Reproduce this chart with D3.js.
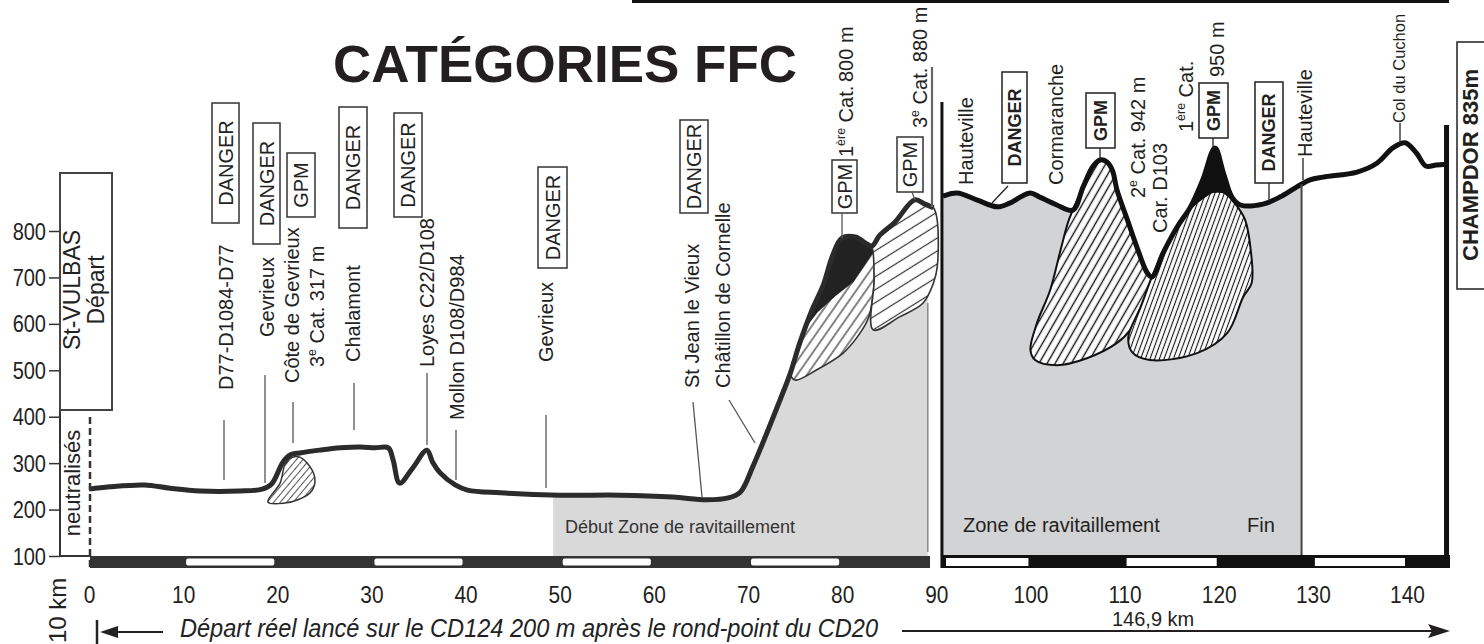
<!DOCTYPE html>
<html><head><meta charset="utf-8">
<script src="https://cdn.jsdelivr.net/npm/d3@7"></script>
<style>html,body{margin:0;padding:0;background:#fff;}svg{display:block;}text{font-family:"Liberation Sans",Arial,Helvetica,sans-serif;}</style>
</head><body><svg id="c" width="1484" height="644"></svg>
<script>
// ---------- DATA ----------
const kmTicks = [0,10,20,30,40,50,60,70,80,90,100,110,120,130,140];
const elevTicks = [100,200,300,400,500,600,700,800];
// West part of the profile (St-Vulbas -> Col 880 m)
const westKm   = [0,2.2,5.9,8.6,11.8,16,18.4,19.4,20.6,21.4,22.4,24.5,26.7,28.8,30.4,31.8,32.3,33,34.4,35.9,36.5,37.3,38.9,40.2,43.7,50,56.4,62,65.6,67.9,69.2,70.5,72,73.4,74.5,75.5,76.8,78,79,80,81.4,82.8,83.2,84,85.6,87.7,88.8,89.7];
const westElev = [244,249,253,246,240,240,244,255,302,318,322,328,333,335,333,333,307,257,290,328,302,279,253,242,236,231,231,227,221,225,238,292,365,436,494,559,630,684,748,785,787,770,768,791,819,867,858,850];
// East part of the profile (Hauteville -> Champdor)
const eastKm   = [90.7,92.2,94.3,96.5,97.8,99.1,100,101,102.8,104.5,105.6,106.6,107.4,108.1,108.7,109.2,110.3,111.3,112.4,112.9,114.1,115.6,117,118.3,119.6,120.5,121.4,122.3,124.7,126.5,128.3,129.7,131.1,134.7,136.8,138.5,139.8,141,142,143.1,144.2];
const eastElev = [875,882,867,852,860,875,882,873,856,845,895,938,953,949,931,888,824,766,710,701,753,809,852,910,979,925,873,856,858,873,895,910,916,927,946,979,990,968,940,942,944];
// Climb "shadow" shapes  [km, elevation]
const climbGevrieux = [[19,216],[20.3,257],[20.8,296],[21.4,311],[22.4,313],[23.7,285],[24,259],[23.5,236],[22.2,221],[20.8,214]];
const climb800 = [[74.5,494],[75.5,559],[76.8,630],[78,684],[79,748],[80,785],[81.4,787],[82.8,770],[83.3,754],[83.4,694],[83.2,651],[82.8,613],[81.9,580],[80.1,537],[77.3,501],[75,479]];
const climb800Steep = [[75.9,585],[76.8,630],[78,684],[79,748],[80,785],[81.4,787],[82.8,770],[83.3,754],[82.4,726],[81.2,690],[79.3,660],[77.4,625]];
const climb880 = [[83.2,768],[84,791],[85.6,819],[87.7,867],[88.8,858],[89.7,850],[90.1,823],[90.1,722],[89.7,688],[88.6,645],[86.1,615],[83.3,587],[83.4,694],[83.3,754]];
const climb942 = [[104.5,845],[105.6,895],[106.6,938],[107.4,953],[108.1,949],[108.7,931],[109.2,888],[110.3,824],[111.3,766],[112.4,710],[112.9,701],[112.5,673],[111.6,630],[110.6,587],[109.2,559],[106,526],[102.8,511],[100.5,522],[100,544],[100.7,602],[102.1,673],[103.2,759],[104,819]];
const climb950 = [[112.9,701],[114.1,753],[115.6,809],[116.9,846],[118.3,871],[119.4,884],[120.6,882],[121.7,860],[122.8,824],[123.4,759],[123.5,688],[122.6,658],[120.9,580],[117.7,537],[112.7,522],[110.8,539],[110.4,572],[111.7,636]];
const climb950Steep = [[116.9,846],[117,852],[118.3,910],[119.6,979],[120.5,925],[121.4,873],[121.7,860],[120.6,882],[119.4,884],[118.3,871]];
// km scale bar: white segments
const barWhiteWest = [[10,20],[30,40],[50,60],[70,80]];
const barWhiteEast = [[90,100],[110,120],[130,140]];
// zones
const zoneWest = [49.3, 89.1];
const zoneEast = [90.6, 128.8];

// ---------- SCALES ----------
const svg = d3.select("#c");
const xS = d3.scaleLinear().domain([0,140]).range([89,1407]);
const yS = d3.scaleLinear().domain([100,800]).range([556,231]);
const FONT = '"Liberation Sans",Arial,sans-serif';

const defs = svg.append("defs");
function hatch(id, angle, sp, w, col){
  const p = defs.append("pattern").attr("id",id).attr("patternUnits","userSpaceOnUse")
    .attr("width",sp).attr("height",sp).attr("patternTransform",`rotate(${-angle})`);
  p.append("rect").attr("width",sp).attr("height",sp).attr("fill","#fff");
  p.append("line").attr("x1",-1).attr("x2",sp+1).attr("y1",sp/2).attr("y2",sp/2)
    .attr("stroke",col).attr("stroke-width",w);
}
hatch("hC",50,5,1,"#555");
hatch("hD",55,8,1.2,"#333");
hatch("hE",32,11,1.2,"#333");
hatch("hA",60,7,1.4,"#111");
hatch("hB",70,4.4,1.1,"#111");

defs.append("clipPath").attr("id","clipW").append("rect")
  .attr("x",xS(zoneWest[0])).attr("y",0).attr("width",xS(zoneWest[1])-xS(zoneWest[0])).attr("height",644);
defs.append("clipPath").attr("id","clipE").append("rect")
  .attr("x",xS(zoneEast[0])).attr("y",0).attr("width",xS(zoneEast[1])-xS(zoneEast[0])).attr("height",644);

const west = westKm.map((k,i)=>[k,westElev[i]]);
const east = eastKm.map((k,i)=>[k,eastElev[i]]);
const lineG = d3.line().x(d=>xS(d[0])).y(d=>yS(d[1])).curve(d3.curveCatmullRom.alpha(0.5));
const areaG = d3.area().x(d=>xS(d[0])).y0(yS(100)).y1(d=>yS(d[1])).curve(d3.curveCatmullRom.alpha(0.5));
const blobG = d3.line().x(d=>xS(d[0])).y(d=>yS(d[1])).curve(d3.curveCatmullRomClosed.alpha(0.5));
const polyG = d3.line().x(d=>xS(d[0])).y(d=>yS(d[1])).curve(d3.curveLinearClosed);

// ---------- ZONES ----------
svg.append("path").attr("d",areaG(west)).attr("fill","#d9d9d9").attr("clip-path","url(#clipW)");
svg.append("path").attr("d",areaG(east)).attr("fill","#d1d3d4").attr("clip-path","url(#clipE)");
svg.append("line").attr("x1",xS(zoneWest[1])).attr("x2",xS(zoneWest[1])).attr("y1",303).attr("y2",552)
  .attr("stroke","#888").attr("stroke-width",1.5);

// ---------- SCALE BARS ----------
svg.append("rect").attr("x",90).attr("y",556).attr("width",840).attr("height",12).attr("fill","#333");
svg.selectAll(".bw").data(barWhiteWest).join("rect")
  .attr("x",d=>xS(d[0])+3).attr("width",d=>xS(d[1])-xS(d[0])-6).attr("y",558.5).attr("height",7)
  .attr("rx",2).attr("fill","#fff");
svg.append("rect").attr("x",xS(zoneEast[0])).attr("y",555).attr("width",1450-xS(zoneEast[0])).attr("height",13).attr("fill","#111");
svg.selectAll(".be").data(barWhiteEast).join("rect")
  .attr("x",d=>Math.max(xS(d[0])+2,946)).attr("width",d=>xS(d[1])-Math.max(xS(d[0])+2,946)-2).attr("y",558).attr("height",8)
  .attr("fill","#fff");

// ---------- CLIMB SHAPES ----------
svg.append("path").attr("d",blobG(climbGevrieux)).attr("fill","url(#hC)").attr("stroke","#333").attr("stroke-width",1.5);
svg.append("path").attr("d",blobG(climb800)).attr("fill","url(#hD)").attr("stroke","#333").attr("stroke-width",1.6);
svg.append("path").attr("d",polyG(climb800Steep)).attr("fill","#222");
svg.append("path").attr("d",blobG(climb880)).attr("fill","url(#hE)").attr("stroke","#333").attr("stroke-width",1.6);
svg.append("path").attr("d",blobG(climb942)).attr("fill","url(#hA)").attr("stroke","#111").attr("stroke-width",2);
svg.append("path").attr("d",blobG(climb950)).attr("fill","url(#hB)").attr("stroke","#111").attr("stroke-width",2);
svg.append("path").attr("d",polyG(climb950Steep)).attr("fill","#111");

// ---------- PROFILE ----------
svg.append("path").attr("d",lineG(west)).attr("fill","none").attr("stroke","#2b2b2b").attr("stroke-width",5).attr("stroke-linejoin","round");
svg.append("path").attr("d",lineG(east)).attr("fill","none").attr("stroke","#111").attr("stroke-width",5).attr("stroke-linejoin","round");

// ---------- FRAME LINES ----------
svg.append("rect").attr("x",632).attr("y",0).attr("width",817).attr("height",3).attr("fill","#111");
svg.append("line").attr("x1",xS(zoneEast[0])).attr("x2",xS(zoneEast[0])).attr("y1",102).attr("y2",568).attr("stroke","#111").attr("stroke-width",3);
svg.append("line").attr("x1",xS(zoneEast[1])).attr("x2",xS(zoneEast[1])).attr("y1",184).attr("y2",555).attr("stroke","#444").attr("stroke-width",2);
svg.append("line").attr("x1",xS(144.2)).attr("x2",xS(144.2)).attr("y1",125).attr("y2",568).attr("stroke","#111").attr("stroke-width",5);
svg.append("line").attr("x1",90).attr("x2",90).attr("y1",417).attr("y2",568).attr("stroke","#333").attr("stroke-width",2.5).attr("stroke-dasharray","7,4");

// ---------- Y AXIS ----------
const yAx = svg.append("g").attr("transform","translate(60,0)")
  .call(d3.axisLeft(yS).tickValues(elevTicks).tickSize(11).tickPadding(3));
yAx.select(".domain").remove();
yAx.selectAll("line").attr("stroke","#333").attr("stroke-width",1.5);
yAx.selectAll("text").attr("x",null).attr("dy",null).attr("fill","#222")
  .attr("transform","translate(-14,8) scale(0.87,1)").attr("text-anchor","end")
  .style("font-size","23px").style("font-family",FONT);
svg.append("line").attr("x1",60).attr("x2",60).attr("y1",173).attr("y2",556).attr("stroke","#333").attr("stroke-width",2);
svg.append("line").attr("x1",60).attr("x2",90).attr("y1",556).attr("y2",556).attr("stroke","#333").attr("stroke-width",2);
svg.append("rect").attr("x",60).attr("y",173).attr("width",52).attr("height",237).attr("fill","none").attr("stroke","#444").attr("stroke-width",2);

// ---------- X AXIS ----------
const xAx = svg.append("g").attr("transform","translate(0,585)")
  .call(d3.axisBottom(xS).tickValues(kmTicks).tickSize(0).tickFormat(d3.format("d")));
xAx.select(".domain").remove();
xAx.selectAll("text").attr("y",null).attr("dy",null).attr("fill","#231f20")
  .attr("transform","translate(0,18) scale(0.87,1)")
  .style("font-size","24px").style("font-family",FONT);

// ---------- TEXT HELPERS ----------
function vtext(x,y,parts,o={}){
  const size=o.size||20;
  const t=svg.append("text")
    .attr("transform",`translate(${x},${y}) rotate(-90)`+(o.sx?` scale(${o.sx},1)`:""))
    .attr("text-anchor",o.anchor||"start").attr("fill",o.fill||"#222")
    .style("font-size",size+"px").style("font-weight",o.bold?"bold":"normal");
  if(o.dy) t.attr("dy",o.dy);
  if(typeof parts==="string") parts=[[parts,0]];
  let up=false;
  parts.forEach(([s,sup])=>{
    const ts=t.append("tspan").text(s);
    if(sup&&!up){ts.attr("dy",-size*0.38).style("font-size",(size*0.62)+"px");up=true;}
    else if(!sup&&up){ts.attr("dy",size*0.38);up=false;}
  });
  return t;
}
function vbox(x0,x1,y0,y1,txt,o={}){
  svg.append("rect").attr("x",x0).attr("y",y0).attr("width",x1-x0).attr("height",y1-y0)
    .attr("fill","#fff").attr("stroke",o.stroke||"#333").attr("stroke-width",o.sw||1.5);
  vtext((x0+x1)/2,(y0+y1)/2,txt,{anchor:"middle",dy:"0.36em",size:o.size||20,bold:o.bold,fill:o.fill});
}
function seg(x1,y1,x2,y2,c,w){svg.append("line").attr("x1",x1).attr("y1",y1).attr("x2",x2).attr("y2",y2).attr("stroke",c||"#555").attr("stroke-width",w||1.3);}

// ---------- TITLE ----------
svg.append("text").attr("x",333).attr("y",82).attr("textLength",464).attr("lengthAdjust","spacingAndGlyphs")
  .attr("fill","#231f20").style("font-size","52px").style("font-weight","bold").text("CATÉGORIES FFC");

// ---------- WEST LABELS ----------
vtext(80,290,"St-VULBAS",{anchor:"middle",size:23});
vtext(104,290,"Départ",{anchor:"middle",size:23});
vtext(80,483,"neutralisés",{anchor:"middle",size:22});

vbox(212,239,103,223,"DANGER");
vbox(253,280,123,244,"DANGER");
vbox(287,315,153,217,"GPM");
vbox(339,367,107,228,"DANGER");
vbox(394,422,113,217,"DANGER");
vbox(538,567,167,268,"DANGER");
vbox(680,708,120,213,"DANGER");
vbox(832,857,160,213,"GPM");
vbox(897,923,137,192,"GPM");

vtext(233,390,"D77-D1084-D77");
vtext(274,337,"Gevrieux");
vtext(299,383,"Côte de Gevrieux");
vtext(324,367,[["3",0],["e",1],[" Cat. 317 m",0]]);
vtext(360,362,"Chalamont");
vtext(434,367,"Loyes C22/D108");
vtext(464,420,"Mollon D108/D984");
vtext(553,362,"Gevrieux");
vtext(699,388,"St Jean le Vieux");
vtext(730,388,"Châtillon de Cornelle");
vtext(853,157,[["1",0],["ère",1],[" Cat.",0]]);
vtext(853,82,"800 m");
vtext(927,128,[["3",0],["e",1],[" Cat. 880 m",0]]);

seg(224,420,224,480); seg(265,375,265,483); seg(293,402,293,443); seg(354,383,354,430);
seg(427,373,427,445); seg(456,430,456,480); seg(546,415,546,488);
seg(693,402,702,497); seg(729,400,755,443); seg(842,213,842,238); seg(912,192,915,200);
seg(932,67,932,207,"#666",2.2);

svg.append("text").attr("x",565).attr("y",533).attr("fill","#333").style("font-size","18px").text("Début Zone de ravitaillement");

// ---------- EAST LABELS ----------
const EC="#231f20";
vtext(973,185,"Hauteville",{fill:EC});
vtext(1063,185,"Cormaranche",{fill:EC});
vtext(1145,198,[["2",0],["e",1],[" Cat. 942 m",0]],{fill:EC});
vtext(1167,233,"Car. D103",{fill:EC});
vtext(1193,132,[["1",0],["ère",1],[" Cat.",0]],{fill:EC});
vtext(1224,77,"950 m",{fill:EC});
vtext(1312,157,"Hauteville",{fill:EC});
vtext(1405,123,"Col du Cuchon",{fill:EC,size:16.5});
vbox(1002,1027,72,183,"DANGER",{bold:true,size:18,stroke:EC,fill:EC});
vbox(1086,1115,93,148,"GPM",{bold:true,size:18,stroke:EC,fill:EC});
vbox(1199,1228,83,138,"GPM",{bold:true,size:18,stroke:EC,fill:EC});
vbox(1255,1283,82,183,"DANGER",{bold:true,size:18,stroke:EC,fill:EC});
seg(1008,186,992,203,EC,1.3); seg(1100,148,1100,160,EC,1.3); seg(1213,138,1213,150,EC,1.3);
seg(1269,183,1269,201,EC,1.3); seg(1303,158,1303,180,EC,1.3); seg(1400,123,1400,143,EC,1.3);
svg.append("rect").attr("x",1457).attr("y",42).attr("width",40).attr("height",247).attr("fill","#fff").attr("stroke",EC).attr("stroke-width",1.5);
vtext(1478,165,"CHAMPDOR 835m",{anchor:"middle",bold:true,size:22,fill:EC});

svg.append("text").attr("x",963).attr("y",532).attr("fill",EC).style("font-size","20px").text("Zone de ravitaillement");
svg.append("text").attr("x",1247).attr("y",532).attr("fill",EC).style("font-size","20px").text("Fin");

// ---------- BOTTOM ----------
vtext(66,643,"10 km",{size:24,fill:"#222"});
seg(97,620,97,644,"#222",2.5);
seg(115,632,163,632,"#222",2);
svg.append("path").attr("d","M100,632 L118,626 L118,638 Z").attr("fill","#222");
svg.append("text").attr("x",180).attr("y",637).attr("textLength",698).attr("lengthAdjust","spacingAndGlyphs")
  .attr("fill","#222").style("font-size","25px").style("font-style","italic")
  .text("Départ réel lancé sur le CD124 200 m après le rond-point du CD20");
seg(902,631,1432,631,EC,2);
svg.append("path").attr("d","M1450,631 L1428,624 L1432,631 L1428,638 Z").attr("fill",EC);
svg.append("text").attr("x",1112).attr("y",626).attr("fill",EC).style("font-size","20px").text("146,9 km");
</script></body></html>
